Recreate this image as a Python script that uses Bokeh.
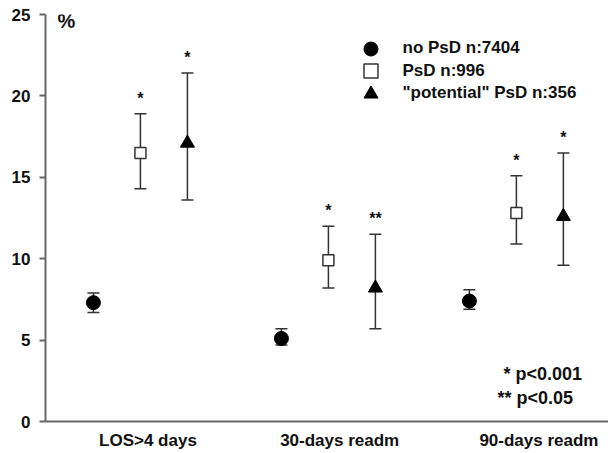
from bokeh.plotting import figure
from bokeh.models import (ColumnDataSource, Whisker, TeeHead, Legend, LegendItem,
                          Label, FixedTicker, Range1d)
from bokeh.core.properties import value
from bokeh.embed import file_html
from bokeh.resources import INLINE

# ---------------- data ----------------
categories = ["LOS>4 days", "30-days readm", "90-days readm"]
series_names = ["no PsD n:7404", "PsD n:996", "\"potential\" PsD n:356"]

no_psd = [7.3, 5.1, 7.4]
no_psd_lo = [6.7, 4.7, 6.9]
no_psd_hi = [7.9, 5.7, 8.1]

psd = [16.5, 9.9, 12.8]
psd_lo = [14.3, 8.2, 10.9]
psd_hi = [18.9, 12.0, 15.1]

pot = [17.1, 8.2, 12.6]
pot_lo = [13.6, 5.7, 9.6]
pot_hi = [21.4, 11.5, 16.5]

psd_sig = ["*", "*", "*"]
pot_sig = ["*", "**", "*"]

y_ticks = [0, 5, 10, 15, 20, 25]
notes = ["* p<0.001", "** p<0.05"]

# ---------------- styling ----------------
FONT = "Liberation Sans"
AX = "#666666"
ERR = "#333333"
TXT = "#111111"

group_x = [i + 1 for i in range(len(categories))]
dodge = [-0.25, 0.0, 0.25]
label_shift = [0.04, 0.06, 0.12]

def xs(k):
    return [g + dodge[k] for g in group_x]

p = figure(width=608, height=453, output_backend="svg", toolbar_location=None,
           x_range=Range1d(0.495, 3.49), y_range=Range1d(0, 25),
           min_border_left=45, min_border_right=0, min_border_top=14, min_border_bottom=32)
p.outline_line_color = None
p.xgrid.visible = False
p.ygrid.visible = False
p.background_fill_color = "white"

# axes
p.yaxis.ticker = FixedTicker(ticks=y_ticks)
p.yaxis.axis_line_color = AX
p.yaxis.axis_line_width = 2
p.yaxis.major_tick_line_color = AX
p.yaxis.major_tick_line_width = 2
p.yaxis.major_tick_out = 6
p.yaxis.major_tick_in = 0
p.yaxis.minor_tick_line_color = None
p.yaxis.major_label_standoff = 9
p.yaxis.major_label_text_font = FONT
p.yaxis.major_label_text_font_size = "17px"
p.yaxis.major_label_text_font_style = "bold"
p.yaxis.major_label_text_color = TXT

tick_pos = [g + s for g, s in zip(group_x, label_shift)]
p.xaxis.ticker = FixedTicker(ticks=tick_pos)
p.xaxis.major_label_overrides = {t: c for t, c in zip(tick_pos, categories)}
p.xaxis.axis_line_color = AX
p.xaxis.axis_line_width = 2
p.xaxis.major_tick_line_color = None
p.xaxis.major_tick_out = 0
p.xaxis.major_tick_in = 0
p.xaxis.minor_tick_line_color = None
p.xaxis.major_label_standoff = 9
p.xaxis.major_label_text_font = FONT
p.xaxis.major_label_text_font_size = "17px"
p.xaxis.major_label_text_font_style = "bold"
p.xaxis.major_label_text_color = TXT

series = [
    (no_psd, no_psd_lo, no_psd_hi, None),
    (psd, psd_lo, psd_hi, psd_sig),
    (pot, pot_lo, pot_hi, pot_sig),
]
marker_style = [
    dict(marker="circle", size=14, fill_color="black", line_color="black"),
    dict(marker="square", size=11, fill_color="white", line_color=ERR, line_width=1.5),
    dict(marker="triangle", size=14, fill_color="black", line_color="black"),
]

renderers = []
for k, (vals, lo, hi, sig) in enumerate(series):
    src = ColumnDataSource(dict(x=xs(k), y=vals, lo=lo, hi=hi))
    w = Whisker(source=src, base="x", upper="hi", lower="lo", dimension="height",
                line_color=ERR, line_width=1.5, level="underlay",
                upper_head=TeeHead(size=12, line_color=ERR, line_width=1.5),
                lower_head=TeeHead(size=12, line_color=ERR, line_width=1.5))
    p.add_layout(w)
    r = p.scatter(x="x", y="y", source=src, **marker_style[k])
    renderers.append(r)
    if sig is not None:
        ssrc = ColumnDataSource(dict(x=xs(k), y=[h + 0.95 for h in hi], t=sig))
        p.text(x="x", y="y", text="t", source=ssrc, text_align="center",
               text_baseline="middle", text_font=value(FONT), text_font_size="16px",
               text_font_style="bold", text_color=TXT)

# legend: one single-item legend per row for precise row spacing
legend_bottoms = [355.5, 333, 310.5]
for name, r, yb in zip(series_names, renderers, legend_bottoms):
    lg = Legend(items=[LegendItem(label=name, renderers=[r])],
                location=(307.5, yb), orientation="vertical",
                glyph_width=35, glyph_height=35, label_standoff=15,
                padding=0, margin=0, border_line_color=None, background_fill_alpha=0,
                label_text_font=FONT, label_text_font_size="17px",
                label_text_font_style="bold", label_text_color=TXT)
    p.add_layout(lg)

# "%" unit label
p.add_layout(Label(x=12, y=401, x_units="screen", y_units="screen", text="%",
                   text_font=FONT, text_font_size="20px", text_font_style="bold",
                   text_color=TXT, text_baseline="middle"))

# significance notes
for txt, nx, ny in zip(notes, [458, 452], [48, 23.5]):
    p.add_layout(Label(x=nx, y=ny, x_units="screen", y_units="screen", text=txt,
                       text_font=FONT, text_font_size="18px", text_font_style="bold",
                       text_color=TXT, text_baseline="middle"))

open("out.html", "w").write(file_html(p, INLINE))
